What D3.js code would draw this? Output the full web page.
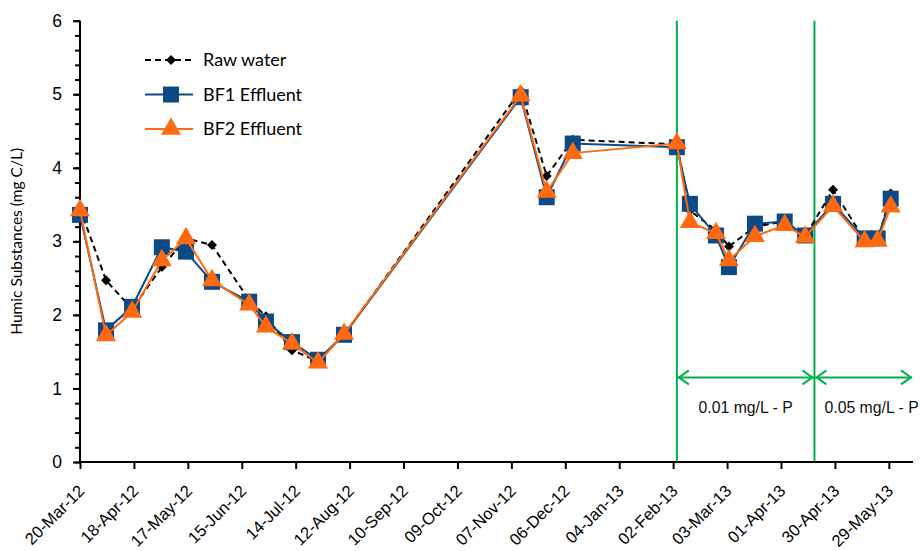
<!DOCTYPE html>
<html>
<head>
<meta charset="utf-8">
<script src="https://cdnjs.cloudflare.com/ajax/libs/d3/7.8.5/d3.min.js"></script>
<style>
  body { margin: 0; background: #fff; }
  svg { display: block; font-family: Lato, "Open Sans", sans-serif; }
</style>
</head>
<body>
<div id="chart"></div>
<script>
// Sampling dates and series values (mg C/L)
var sampleDates = ["2012-03-20", "2012-04-03", "2012-04-17", "2012-05-03", "2012-05-16",
    "2012-05-30", "2012-06-19", "2012-06-28", "2012-07-12", "2012-07-26", "2012-08-09",
    "2012-11-12", "2012-11-26", "2012-12-10", "2013-02-04", "2013-02-11", "2013-02-25",
    "2013-03-04", "2013-03-18", "2013-04-03", "2013-04-14", "2013-04-29", "2013-05-16",
    "2013-05-23", "2013-05-30"];
var rawWater = [3.45, 2.47, 2.08, 2.65, 3.04, 2.95, 2.2, 1.98, 1.52, 1.37, 1.73,
    5.05, 3.89, 4.38, 4.32, 3.42, 3.15, 2.93, 3.2, 3.27, 3.07, 3.70, 3.02, 3.0, 3.65];
var bf1Effluent = [3.36, 1.79, 2.11, 2.92, 2.86, 2.45, 2.18, 1.91, 1.63, 1.39, 1.73,
    4.96, 3.60, 4.33, 4.28, 3.51, 3.08, 2.65, 3.24, 3.27, 3.08, 3.51, 3.04, 3.04, 3.58];
var bf2Effluent = [3.42, 1.72, 2.04, 2.74, 3.04, 2.47, 2.14, 1.84, 1.61, 1.35, 1.74,
    4.98, 3.67, 4.20, 4.33, 3.26, 3.11, 2.74, 3.07, 3.22, 3.06, 3.48, 3.00, 3.01, 3.47];

// x tick labels (every 29 days) and y ticks
var xTickLabels = ["20-Mar-12", "18-Apr-12", "17-May-12", "15-Jun-12", "14-Jul-12",
    "12-Aug-12", "10-Sep-12", "09-Oct-12", "07-Nov-12", "06-Dec-12", "04-Jan-13",
    "02-Feb-13", "03-Mar-13", "01-Apr-13", "30-Apr-13", "29-May-13"];
var yTicks = [0, 1, 2, 3, 4, 5, 6];

// phosphorus dosing periods
var periodDates = ["2013-02-04", "2013-04-19", "2013-06-11"];
var periodLabels = ["0.01 mg/L - P", "0.05 mg/L - P"];

var svgWidth = 920;
var svgHeight = 551;
var margin = { top: 20.7, right: 7, bottom: 89, left: 80 };
var width = svgWidth - margin.left - margin.right;
var height = svgHeight - margin.top - margin.bottom;

var parseDate = d3.utcParse("%Y-%m-%d");
var parseTick = d3.utcParse("%d-%b-%y");

var svg = d3.select("#chart").append("svg")
    .attr("width", svgWidth)
    .attr("height", svgHeight);

var chartGroup = svg.append("g")
    .attr("transform", `translate(${margin.left}, ${margin.top})`);

var xScale = d3.scaleUtc()
    .domain([parseDate("2012-03-20"), parseDate("2013-06-11")])
    .range([0, width]);

var yScale = d3.scaleLinear()
    .domain([0, 6])
    .range([height, 0]);

var series = [
    { name: "Raw water", values: rawWater, color: "#000", dash: "6,4", width: 2, marker: "diamond" },
    { name: "BF1 Effluent", values: bf1Effluent, color: "#0B4A86", dash: null, width: 2, marker: "square" },
    { name: "BF2 Effluent", values: bf2Effluent, color: "#FF6A10", dash: null, width: 2, marker: "triangle" }
];

var markerSymbol = {
    diamond: d3.symbol().type(d3.symbolSquare).size(50),
    square: d3.symbol().type(d3.symbolSquare).size(256),
    triangle: d3.symbol().type(d3.symbolTriangle).size(175)
};

// green period lines + arrows
var green = "#00B050";
periodDates.slice(0, 2).forEach(function (d) {
    chartGroup.append("line")
        .attr("x1", xScale(parseDate(d))).attr("x2", xScale(parseDate(d)))
        .attr("y1", 0).attr("y2", height)
        .attr("stroke", green).attr("stroke-width", 2);
});

var arrowY = yScale(1.15);
function arrow(x1, x2) {
    chartGroup.append("line")
        .attr("x1", x1).attr("x2", x2).attr("y1", arrowY).attr("y2", arrowY)
        .attr("stroke", green).attr("stroke-width", 2);
    [[x1, 1], [x2, -1]].forEach(function (p) {
        chartGroup.append("path")
            .attr("d", `M${p[0] + p[1] * 11},${arrowY - 7} L${p[0] + p[1] * 1},${arrowY} L${p[0] + p[1] * 11},${arrowY + 7}`)
            .attr("fill", "none").attr("stroke", green).attr("stroke-width", 2);
    });
}
for (var i = 0; i < 2; i++) {
    var xa = xScale(parseDate(periodDates[i])) + 1;
    var xb = xScale(parseDate(periodDates[i + 1])) - 1;
    arrow(xa, xb);
    chartGroup.append("text")
        .attr("x", i === 0 ? (xa + xb) / 2 : xa + 9)
        .attr("y", arrowY + 36)
        .attr("text-anchor", i === 0 ? "middle" : "start")
        .style("font-family", "'Liberation Sans', Arial, sans-serif")
        .style("font-size", "15.8px")
        .attr("fill", "#111")
        .text(periodLabels[i]);
}

// axes
var xTickDates = xTickLabels.map(parseTick);
var xAxis = d3.axisBottom(xScale)
    .tickValues(xTickDates)
    .tickSize(7)
    .tickFormat(function (d, i) { return xTickLabels[i]; });

var xAxisGroup = chartGroup.append("g")
    .attr("transform", `translate(0, ${height})`)
    .call(xAxis);
xAxisGroup.select(".domain").attr("stroke-width", 2).attr("d", `M0,0H${width}`);
xAxisGroup.selectAll(".tick line").attr("stroke-width", 2);
xAxisGroup.selectAll(".tick text")
    .attr("text-anchor", "end")
    .attr("dy", 0)
    .attr("y", 0)
    .attr("transform", "translate(5, 30) rotate(-45)")
    .style("font-size", "16.5px")
    .attr("fill", "#000");

var yMinor = d3.axisLeft(yScale)
    .tickValues(d3.range(0, 31).map(function (k) { return k / 5; }))
    .tickSize(5)
    .tickFormat("");
chartGroup.append("g").call(yMinor)
    .call(function (g) { g.selectAll(".tick line").attr("stroke-width", 2); });

var yAxis = d3.axisLeft(yScale)
    .tickValues(yTicks)
    .tickSize(7)
    .tickPadding(11)
    .tickFormat(d3.format("d"));
var yAxisGroup = chartGroup.append("g").call(yAxis);
yAxisGroup.select(".domain").attr("stroke-width", 2).attr("d", `M0,0V${height}`);
yAxisGroup.selectAll(".tick line").attr("stroke-width", 2);
yAxisGroup.selectAll(".tick text").style("font-size", "17.5px").attr("fill", "#000");

chartGroup.append("text")
    .attr("transform", "rotate(-90)")
    .attr("x", -(height / 2))
    .attr("y", -58)
    .attr("text-anchor", "middle")
    .style("font-size", "15.5px")
    .text("Humic Substances (mg C/L)");

// series
var dates = sampleDates.map(parseDate);
series.forEach(function (s) {
    var line = d3.line()
        .x(function (d, i) { return xScale(dates[i]); })
        .y(function (d) { return yScale(d); });

    chartGroup.append("path")
        .datum(s.values)
        .attr("d", line)
        .attr("fill", "none")
        .attr("stroke", s.color)
        .attr("stroke-width", s.width)
        .attr("stroke-dasharray", s.dash);

    chartGroup.selectAll(".m-" + s.marker)
        .data(s.values)
        .enter().append("path")
        .attr("class", "m-" + s.marker)
        .attr("d", markerSymbol[s.marker])
        .attr("transform", function (d, i) {
            return `translate(${xScale(dates[i])}, ${yScale(d)})` + (s.marker === "diamond" ? " rotate(45)" : "");
        })
        .attr("fill", s.color);
});

// legend
var legend = svg.append("g").attr("transform", "translate(145, 60)");
series.forEach(function (s, i) {
    var g = legend.append("g").attr("transform", `translate(0, ${i * 34.5})`);
    g.append("line")
        .attr("x1", 0).attr("x2", 48).attr("y1", 0).attr("y2", 0)
        .attr("stroke", s.color).attr("stroke-width", s.width)
        .attr("stroke-dasharray", s.dash);
    g.append("path")
        .attr("d", markerSymbol[s.marker])
        .attr("transform", "translate(26, 0)" + (s.marker === "diamond" ? " rotate(45)" : ""))
        .attr("fill", s.color);
    g.append("text")
        .attr("x", 58)
        .attr("y", 0)
        .attr("dy", "0.35em")
        .style("font-size", "18px")
        .text(s.name);
});
</script>
</body>
</html>
